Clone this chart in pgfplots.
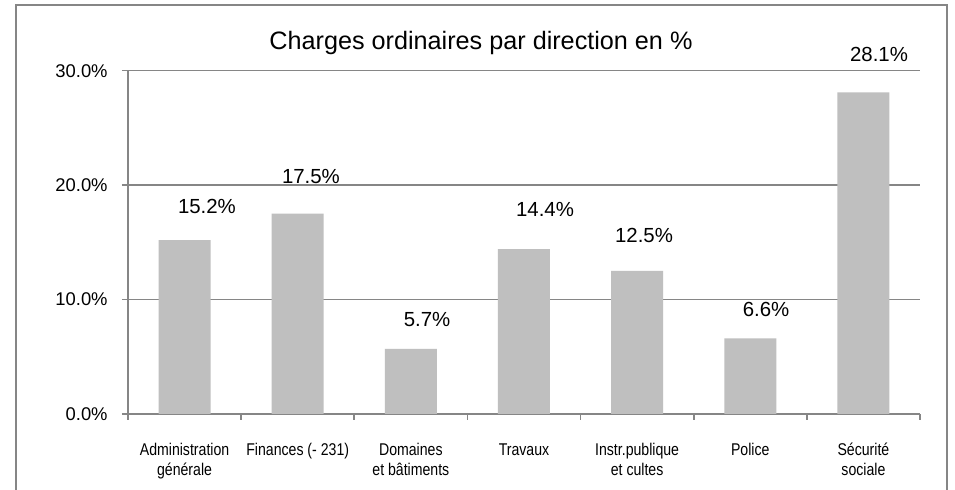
\documentclass[border=0pt]{standalone}
\usepackage{fontspec}
\setmainfont{Liberation Sans}
\newfontfamily\narrowfont[FakeStretch=0.83]{Liberation Sans}
\usepackage{pgfplots}
\pgfplotsset{compat=1.18}
\definecolor{gridgray}{RGB}{134,134,134}
\definecolor{barfill}{RGB}{191,191,191}
\begin{document}
\begin{tikzpicture}
\useasboundingbox (0,0) rectangle (477.5pt,245pt);
\fill[white] (0,0) rectangle (477.5pt,245pt);
\draw[gridgray, line width=1pt] (7.85pt,-2pt) -- (7.85pt,242.5pt) -- (473.35pt,242.5pt) -- (473.35pt,-2pt);
\node[anchor=base, inner sep=0pt, font=\fontsize{12.6}{14}\selectfont] at (240.5pt,220pt) {Charges ordinaires par direction en \%};
\begin{axis}[
  at={(64pt,38pt)}, anchor=south west,
  scale only axis, width=396pt, height=171.65pt,
  xmin=-0.5, xmax=6.5, ymin=0, ymax=30,
  clip=false,
  ybar, bar width=26pt,
  axis x line*=bottom, axis y line*=left,
  axis line style={-, draw=gridgray, line width=0.9pt},
  ymajorgrids, grid style={gridgray, line width=0.8pt},
  tick align=outside,
  major tick length=3pt,
  tick style={gridgray, line width=0.8pt},
  ytick={0,10,20,30},
  yticklabels={0.0\%,10.0\%,20.0\%,30.0\%},
  yticklabel style={font=\fontsize{9.2}{11}\selectfont, inner sep=0pt, anchor=east, xshift=-7pt},
  xtick={-0.5,0.5,...,6.5},
  xticklabels={},
  extra x ticks={0,1,2,3,4,5,6},
  extra x tick labels={{\strut Administration\\générale},{\strut Finances (- 231)},{\strut Domaines\\et bâtiments},{\strut Travaux},{\strut Instr.publique\\et cultes},{\strut Police},{\strut Sécurité\\sociale}},
  extra x tick style={tick style={draw=none}, xticklabel style={anchor=north, align=center, inner sep=0pt, font=\narrowfont\fontsize{8.5}{10}\selectfont, yshift=-10.5pt}},
]
\addplot[fill=barfill, draw=none] coordinates {(0,15.2) (1,17.5) (2,5.7) (3,14.4) (4,12.5) (5,6.6) (6,28.1)};
\begin{scope}[every node/.style={font=\fontsize{10.2}{12}\selectfont, inner sep=0pt}]
\node at (axis cs:0.198,18.14) {15.2\%};
\node at (axis cs:1.117,20.72) {17.5\%};
\node at (axis cs:2.143,8.26) {5.7\%};
\node at (axis cs:3.186,17.83) {14.4\%};
\node at (axis cs:4.061,15.6) {12.5\%};
\node at (axis cs:5.139,9.09) {6.6\%};
\node at (axis cs:6.138,31.42) {28.1\%};
\end{scope}
\end{axis}
\end{tikzpicture}
\end{document}
